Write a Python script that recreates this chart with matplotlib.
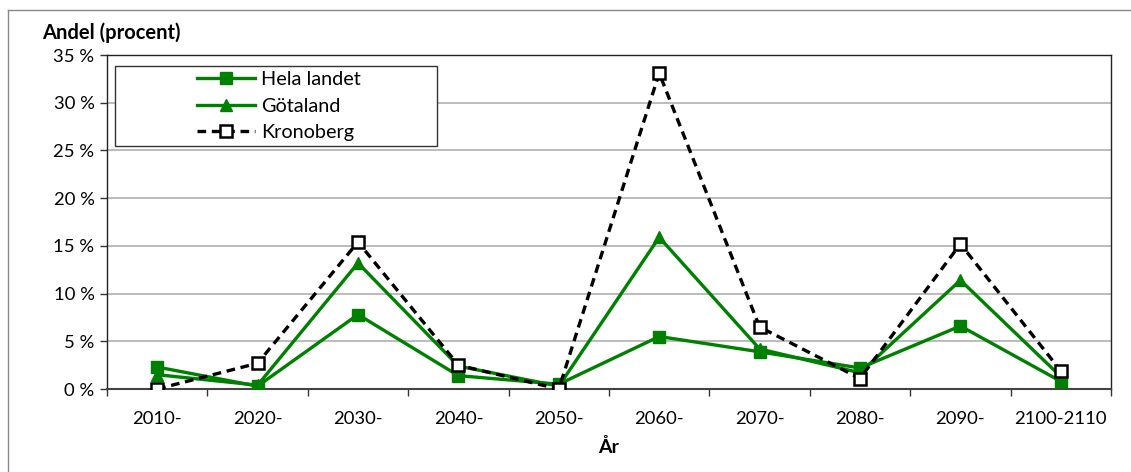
import numpy as np
import matplotlib
matplotlib.use('Agg')
from matplotlib import pyplot as plt
from matplotlib.patches import Rectangle
from matplotlib.lines import Line2D

plt.rcParams['font.family'] = ['Lato', 'DejaVu Sans']

# data (percent)
decades = ['2010-', '2020-', '2030-', '2040-', '2050-', '2060-', '2070-', '2080-', '2090-', '2100-2110']
hela_landet = [2.3, 0.3, 7.8, 1.4, 0.5, 5.5, 3.9, 2.2, 6.6, 0.8]
gotaland = [1.5, 0.4, 13.2, 2.4, 0.3, 15.9, 4.2, 1.7, 11.4, 1.3]
kronoberg = [0.0, 2.7, 15.4, 2.5, 0.0, 33.1, 6.5, 1.1, 15.2, 1.9]
y_ticks = [0, 5, 10, 15, 20, 25, 30, 35]

green = '#008000'

fig = plt.figure(figsize=(11.31, 4.72), dpi=100)
ax = fig.add_axes([107 / 1131, 83 / 472, 1004 / 1131, 334 / 472])

x = np.arange(len(decades))
ax.plot(x, hela_landet, color=green, lw=2.4, marker='s', ms=9, mfc=green, mec=green,
        label='Hela landet', zorder=3)
ax.plot(x, gotaland, color=green, lw=2.4, marker='^', ms=9, mfc=green, mec=green,
        label='Götaland', zorder=4)
ax.plot(x, kronoberg, color='black', lw=2.4, ls=(0, (2.6, 1.7)), marker='s', ms=8,
        mfc='white', mec='black', mew=1.8, label='Kronoberg', zorder=5)

ax.set_xlim(-0.5, len(decades) - 0.5)
ax.set_ylim(0, 35)
ax.set_yticks(y_ticks)
ax.set_yticklabels(['%d %%' % v for v in y_ticks], fontsize=13.3)
ax.set_xticks(x)
ax.set_xticklabels(decades, fontsize=13.3)
ax.set_xticks(np.arange(-0.5, len(decades)), minor=True)
ax.tick_params(axis='x', which='major', length=0, pad=16)
ax.tick_params(axis='x', which='minor', length=5, width=1, color='#333333')
ax.tick_params(axis='y', length=5, width=1, color='#333333', pad=4)
ax.yaxis.grid(True, color='#b0b0b0', lw=1.2)
ax.set_axisbelow(True)
for s in ax.spines.values():
    s.set_color('#222222')
    s.set_linewidth(1)
ax.spines['bottom'].set_color('#444444')
ax.spines['bottom'].set_linewidth(1.5)

ax.set_xlabel('År', fontsize=14, fontweight='bold', labelpad=8)
fig.text(42 / 1131, 1 - 33 / 472, 'Andel (procent)', fontsize=14.5, fontweight='bold',
         va='center', ha='left')

# legend box
ax.add_patch(Rectangle((8 / 1004, (389 - 146) / 334), 322 / 1004, 80 / 334,
                       transform=ax.transAxes, fc='white', ec='#333333', lw=1, zorder=6))
leg = ax.legend(loc='center left', bbox_to_anchor=(80 / 1004, (389 - 106) / 334),
                frameon=False, borderpad=0, fontsize=14.3, handlelength=2.9,
                handletextpad=0.35, labelspacing=0.5)
leg.set_zorder(7)

# outer chart border
fig.add_artist(Line2D([8 / 1131, 8 / 1131], [0, 1 - 10 / 472], transform=fig.transFigure,
                      color='#888888', lw=1))
fig.add_artist(Line2D([8 / 1131, 1], [1 - 10 / 472, 1 - 10 / 472], transform=fig.transFigure,
                      color='#888888', lw=1))

fig.savefig('out.png', dpi=100)
